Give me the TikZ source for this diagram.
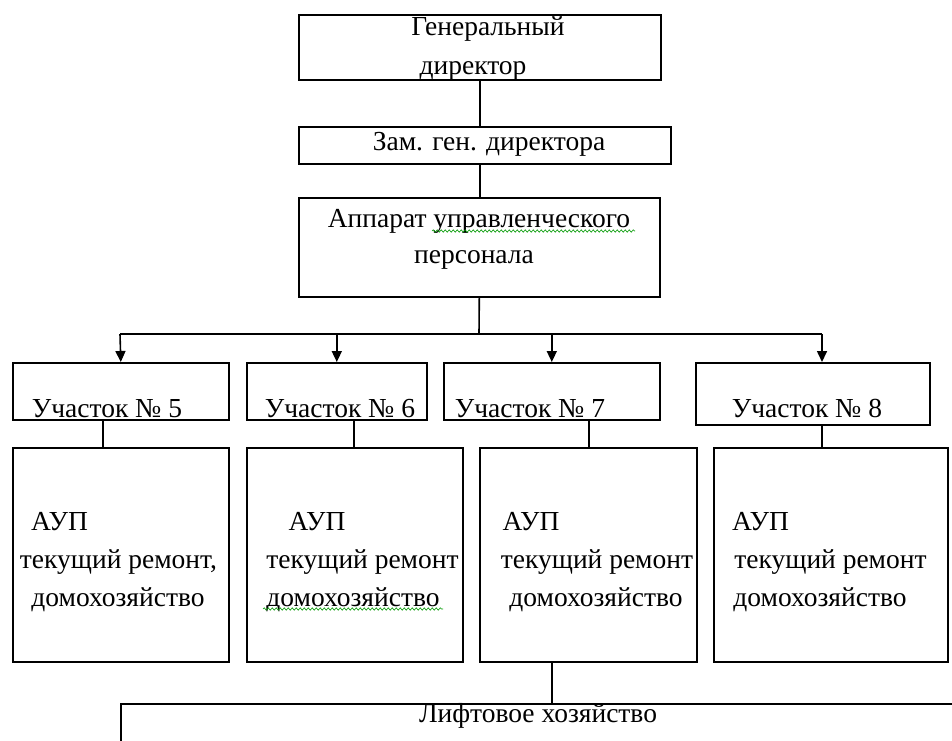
\documentclass[tikz,border=0pt]{standalone}
\usepackage{fontspec}
\setmainfont{Liberation Serif}
\usetikzlibrary{arrows.meta,decorations.pathmorphing}
\begin{document}
\begin{tikzpicture}[x=1pt,y=-1pt,
 box/.style={draw, line width=1.6pt, inner sep=0pt, anchor=north west},
 txt/.style={inner sep=0pt, anchor=base, font=\fontsize{27.5}{32}\selectfont},
 link/.style={line width=1.6pt},
 arr/.style={line width=1.6pt, -{Triangle[length=11pt,width=10pt]}},
 wavy/.style={draw=green!60!black, line width=0.6pt, decorate, decoration={snake,amplitude=1.2pt,segment length=4pt}}]
\clip (0,0) rectangle (952,740);
\fill[white] (0,0) rectangle (952,740);
% boxes
\node[box, minimum width=362pt, minimum height=65pt] (gen) at (298,14) {};
\node[box, minimum width=372pt, minimum height=37pt] (zam) at (298,126) {};
\node[box, minimum width=361pt, minimum height=99pt] (app) at (298,197) {};
\node[box, minimum width=216pt, minimum height=57pt] (u5) at (12,362) {};
\node[box, minimum width=180pt, minimum height=57pt] (u6) at (246,362) {};
\node[box, minimum width=216pt, minimum height=57pt] (u7) at (443,362) {};
\node[box, minimum width=234pt, minimum height=62pt] (u8) at (695,362) {};
\node[box, minimum width=216pt, minimum height=214pt] (a5) at (12,447) {};
\node[box, minimum width=216pt, minimum height=214pt] (a6) at (246,447) {};
\node[box, minimum width=217pt, minimum height=214pt] (a7) at (479,447) {};
\node[box, minimum width=234pt, minimum height=214pt] (a8) at (713,447) {};
\node[box, minimum width=900pt, minimum height=100pt] (lift) at (120,703) {};
% texts
\node[txt] (t1) at (488,35) {Генеральный};
\node[txt] (t2) at (473,74) {директор};
\node[txt] (t3) at (489,150) {Зам. ген. директора};
\node[txt] (t4) at (479,227) {Аппарат управленческого};
\node[txt] (t5) at (474,263) {персонала};
\node[txt] (t6) at (107,417) {Участок № 5};
\node[txt] (t7) at (340,417) {Участок № 6};
\node[txt] (t8) at (530,417) {Участок № 7};
\node[txt] (t9) at (807,417) {Участок № 8};
\node[txt] (t10) at (59.5,530) {АУП};
\node[txt] (t11) at (118.5,568) {текущий ремонт,};
\node[txt] (t12) at (118,606) {домохозяйство};
\node[txt] (t13) at (317,530) {АУП};
\node[txt] (t14) at (362.5,568) {текущий ремонт};
\node[txt] (t15) at (353,606) {домохозяйство};
\node[txt] (t16) at (531,530) {АУП};
\node[txt] (t17) at (597,568) {текущий ремонт};
\node[txt] (t18) at (596,606) {домохозяйство};
\node[txt] (t19) at (760.5,530) {АУП};
\node[txt] (t20) at (830.5,568) {текущий ремонт};
\node[txt] (t21) at (820,606) {домохозяйство};
\node[txt] (t22) at (538,722) {Лифтовое хозяйство};
% spell-check marks
\draw[wavy] (432,231) -- (635,231);
\draw[wavy] (263,609) -- (443,609);
% connectors
\draw[link] (gen.south) -- (gen.south |- zam.north);
\draw[link] (gen.south |- zam.south) -- (gen.south |- app.north);
\coordinate (bus) at (479,334);
\coordinate (bl) at (120,334);
\coordinate (br) at (822,334);
\draw[link] (app.south) -- (bus);
\draw[link] (bl) -- (br);
\draw[arr] (bl) -- (u5.north);
\draw[arr] (u6.north |- bus) -- (u6.north);
\draw[arr] (u7.north |- bus) -- (u7.north);
\draw[arr] (br) -- (br |- u8.north);
\draw[link] ([xshift=-18pt]u5.south) -- ([xshift=-18pt]u5.south |- a5.north);
\draw[link] ([xshift=17pt]u6.south) -- ([xshift=17pt]u6.south |- a6.north);
\draw[link] ([xshift=37pt]u7.south) -- ([xshift=37pt]u7.south |- a7.north);
\draw[link] ([xshift=9pt]u8.south) -- ([xshift=9pt]u8.south |- a8.north);
\draw[link] ([xshift=-36.5pt]a7.south) -- ([xshift=-36.5pt]a7.south |- lift.north);
\end{tikzpicture}
\end{document}
